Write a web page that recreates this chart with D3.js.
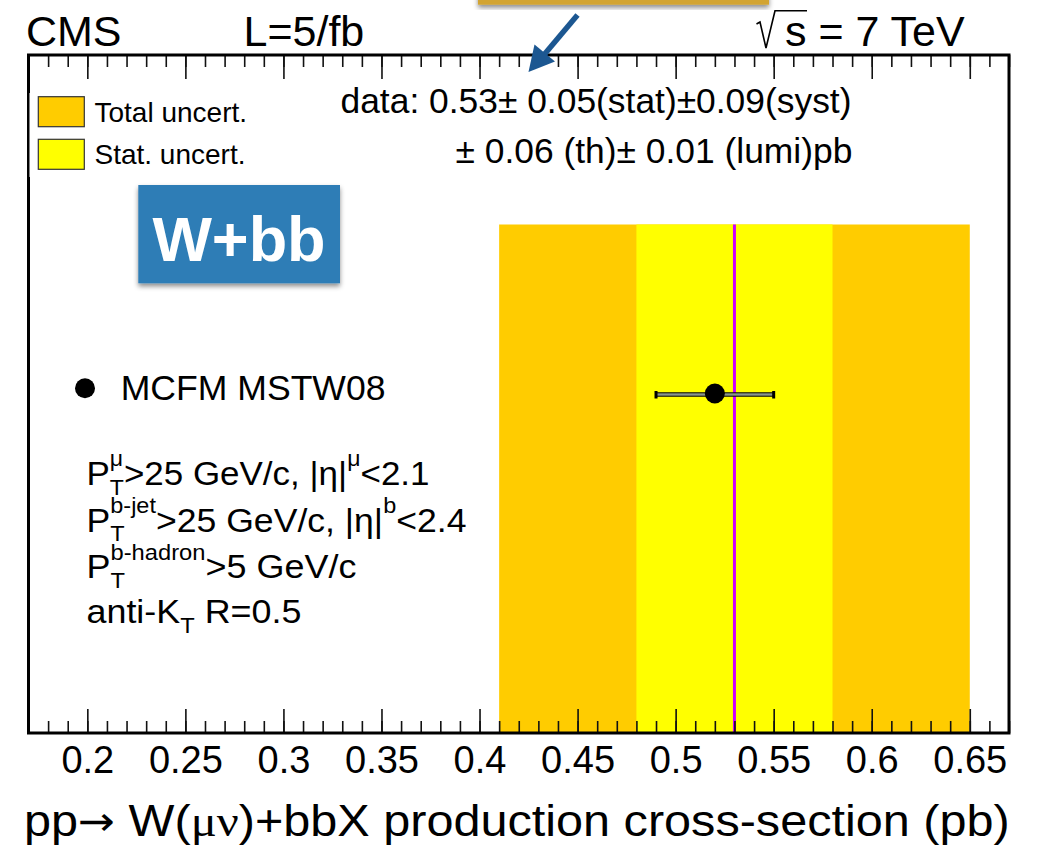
<!DOCTYPE html>
<html>
<head>
<meta charset="utf-8">
<script src="https://cdn.jsdelivr.net/npm/d3@7"></script>
<style>
  body { margin: 0; background: #fff; }
  text { font-family: "Liberation Sans", Arial, Helvetica, sans-serif; fill: #000; white-space: pre; }
</style>
</head>
<body>
<div id="plot"></div>
<script>
// values
const xDomain = [0.17, 0.67];
const majorTicks = [0.2, 0.25, 0.3, 0.35, 0.4, 0.45, 0.5, 0.55, 0.6, 0.65];
const tickLabels = ["0.2", "0.25", "0.3", "0.35", "0.4", "0.45", "0.5", "0.55", "0.6", "0.65"];

const measured = [0.53];
const statErr = [0.05];
const systErr = [0.09];
const thErr = [0.06];
const lumiErr = [0.01];
const totalErr = [0.12];

const bandLabels = ["Total uncert.", "Stat. uncert."];
const bandHalfWidths = [totalErr[0], statErr[0]];

const theoryLabels = ["MCFM MSTW08"];
const theoryValues = [0.52];
const theoryErrs = [0.03];

// layout / style
const w = 1037, h = 846;
const frame = { left: 28.5, right: 1009, top: 55, bottom: 733 };
const bandColors = ["#ffcc00", "#ffff00"];
const bandTop = 0.75;   // fraction of frame height
const theoryY = 0.5;

const svg = d3.select("#plot").append("svg")
    .attr("width", w)
    .attr("height", h);

const defs = svg.append("defs");
defs.append("filter").attr("id", "shadow")
    .attr("x", "-10%").attr("y", "-10%").attr("width", "120%").attr("height", "130%")
  .append("feDropShadow")
    .attr("dx", 0).attr("dy", 3).attr("stdDeviation", 2.5)
    .attr("flood-color", "#000").attr("flood-opacity", 0.45);

const x = d3.scaleLinear().domain(xDomain).range([frame.left, frame.right]);
const y = d3.scaleLinear().domain([0, 1]).range([frame.bottom, frame.top]);

// uncertainty bands
svg.selectAll(".band")
  .data(bandHalfWidths)
  .enter().append("rect")
    .attr("class", "band")
    .attr("x", d => x(measured[0] - d))
    .attr("y", y(bandTop))
    .attr("width", d => x(measured[0] + d) - x(measured[0] - d))
    .attr("height", y(0) - y(bandTop))
    .attr("fill", (d, i) => bandColors[i]);

svg.append("line")
    .attr("x1", x(measured[0])).attr("x2", x(measured[0]))
    .attr("y1", y(bandTop)).attr("y2", y(0))
    .attr("stroke", "#cc00ff")
    .attr("stroke-width", 3);

// theory prediction
const th = svg.selectAll(".theory")
  .data(theoryValues)
  .enter().append("g")
    .attr("class", "theory");

th.append("rect")
    .attr("x", (d, i) => x(d - theoryErrs[i]))
    .attr("y", y(theoryY) - 1.2)
    .attr("width", (d, i) => x(d + theoryErrs[i]) - x(d - theoryErrs[i]))
    .attr("height", 3.4)
    .attr("fill", "#8a968a")
    .attr("stroke", "#000")
    .attr("stroke-width", 1);

[-1, 1].forEach(s => {
  th.append("rect")
      .attr("x", (d, i) => x(d + s * theoryErrs[i]) - 1.5)
      .attr("y", y(theoryY) - 3)
      .attr("width", 3)
      .attr("height", 7.5)
      .attr("fill", "#000");
});

th.append("circle")
    .attr("cx", d => x(d))
    .attr("cy", y(theoryY) - 0.5)
    .attr("r", 10)
    .attr("fill", "#000");

// axes (ROOT style, ticks inside)
const minorTicks = d3.range(17, 68).map(i => i / 100);

function styleTicks(g) {
  g.select(".domain").remove();
  g.selectAll(".tick line").attr("stroke", "#111").attr("stroke-width", 1.6);
}

svg.append("g")
    .attr("transform", `translate(0,${frame.bottom})`)
    .call(d3.axisBottom(x).tickValues(minorTicks).tickSize(-12).tickFormat(""))
    .call(styleTicks);

const xAxis = svg.append("g")
    .attr("transform", `translate(0,${frame.bottom})`)
    .call(d3.axisBottom(x)
      .tickValues(majorTicks)
      .tickSize(-24)
      .tickPadding(13)
      .tickFormat((d, i) => tickLabels[i]))
    .call(styleTicks);

xAxis.selectAll(".tick text")
    .attr("fill", "#000")
    .style("font-family", "'Liberation Sans', Arial, sans-serif")
    .style("font-size", "38px");

svg.append("g")
    .attr("transform", `translate(0,${frame.top})`)
    .call(d3.axisTop(x).tickValues(minorTicks).tickSize(-12).tickFormat(""))
    .call(styleTicks);

svg.append("g")
    .attr("transform", `translate(0,${frame.top})`)
    .call(d3.axisTop(x).tickValues(majorTicks).tickSize(-24).tickFormat(""))
    .call(styleTicks);

svg.append("rect")
    .attr("x", frame.left).attr("y", frame.top)
    .attr("width", frame.right - frame.left)
    .attr("height", frame.bottom - frame.top)
    .attr("fill", "none")
    .attr("stroke", "#000")
    .attr("stroke-width", 3);

// legend
svg.append("rect")
    .attr("x", 29.5).attr("y", 93)
    .attr("width", 230).attr("height", 84)
    .attr("fill", "#fff");

const legend = svg.selectAll(".legend")
  .data(bandLabels)
  .enter().append("g")
    .attr("class", "legend")
    .attr("transform", (d, i) => `translate(38.3,${96.7 + i * 42.6})`);

legend.append("rect")
    .attr("width", 46).attr("height", 30)
    .attr("fill", (d, i) => bandColors[i])
    .attr("stroke", "#333")
    .attr("stroke-width", 1.2);

legend.append("text")
    .attr("x", 56.2).attr("y", 25)
    .style("font-size", "28px")
    .text(d => d);

// header
svg.append("text").attr("x", 26).attr("y", 45.7).style("font-size", "43px").text("CMS");
svg.append("text").attr("x", 243.5).attr("y", 45.7).style("font-size", "43px").text("L=5/fb");
svg.append("path")
    .attr("d", "M756.5,24 L760,22 L766,48 L775,10.7 L807,10.7")
    .attr("fill", "none")
    .attr("stroke", "#000")
    .attr("stroke-width", 1.6);
svg.append("text").attr("x", 785).attr("y", 45.7).style("font-size", "43px").text("s = 7 TeV");

// measurement text
const f2 = v => v.toFixed(2);
svg.append("text").attr("x", 340.5).attr("y", 113).style("font-size", "35.4px")
    .text(`data: ${f2(measured[0])}± ${f2(statErr[0])}(stat)±${f2(systErr[0])}(syst)`);
svg.append("text").attr("x", 455.5).attr("y", 163.3).style("font-size", "35.4px")
    .text(`± ${f2(thErr[0])} (th)± ${f2(lumiErr[0])} (lumi)pb`);

// theory legend
svg.append("circle").attr("cx", 85).attr("cy", 388.3).attr("r", 10).attr("fill", "#000");
svg.append("text").attr("x", 120.7).attr("y", 400).style("font-size", "35.6px").text(theoryLabels[0]);

// rich text with sub/superscripts, stretched to a target width
function richText(x0, y0, parts, size, target) {
  const grp = svg.append("g");
  const small = size * 0.66;
  let cx = 0;
  parts.forEach(p => {
    if (p.t !== undefined) {
      const t = grp.append("text").attr("x", cx).attr("y", p.dy || 0)
          .style("font-size", (p.size || size) + "px").text(p.t);
      if (p.family) t.style("font-family", p.family);
      cx += t.node().getComputedTextLength();
    } else {
      let wMax = 0;
      if (p.sup) {
        const t = grp.append("text").attr("x", cx).attr("y", -size * 0.55)
            .style("font-size", small + "px").text(p.sup);
        wMax = Math.max(wMax, t.node().getComputedTextLength());
      }
      if (p.sub) {
        const t = grp.append("text").attr("x", cx).attr("y", size * 0.28)
            .style("font-size", small + "px").text(p.sub);
        wMax = Math.max(wMax, t.node().getComputedTextLength());
      }
      cx += wMax;
    }
  });
  const sx = target ? target / cx : 1;
  grp.attr("transform", `translate(${x0},${y0}) scale(${sx},1)`);
  return grp;
}

const cutSize = 34;
richText(86.5, 485, [{ t: "P" }, { sup: "μ", sub: "T" }, { t: ">25 GeV/c, |η|" }, { sup: "μ" }, { t: "<2.1" }], cutSize, 343);
richText(86.5, 531.7, [{ t: "P" }, { sup: "b-jet", sub: "T" }, { t: ">25 GeV/c, |η|" }, { sup: "b" }, { t: "<2.4" }], cutSize, 380);
richText(86.5, 578.3, [{ t: "P" }, { sup: "b-hadron", sub: "T" }, { t: ">5 GeV/c" }], cutSize, 270);
richText(86.5, 623.3, [{ t: "anti-K" }, { sub: "T" }, { t: " R=0.5" }], cutSize, 215);

// axis title
richText(24, 836, [
  { t: "pp" },
  { t: "→", family: "'DejaVu Sans', sans-serif", size: 40, dy: -1 },
  { t: " W(" },
  { t: "μν", family: "'Liberation Serif', 'DejaVu Serif', serif" },
  { t: ")+bbX production cross-section (pb)" }
], 44, 986);

// overlay annotations
svg.append("rect")
    .attr("x", 478).attr("y", -20)
    .attr("width", 291).attr("height", 24.7)
    .attr("fill", "#d2a430")
    .attr("filter", "url(#shadow)");

svg.append("line")
    .attr("x1", 577.5).attr("y1", 15)
    .attr("x2", 543).attr("y2", 56)
    .attr("stroke", "#1c5791")
    .attr("stroke-width", 5.5);
svg.append("path")
    .attr("d", "M528.5,72 L534.5,44.5 L555,61.5 Z")
    .attr("fill", "#1c5791");

const badge = svg.append("g");
badge.append("rect")
    .attr("x", 138.3).attr("y", 185)
    .attr("width", 201.7).attr("height", 98.3)
    .attr("fill", "#2f7db6")
    .attr("filter", "url(#shadow)");
badge.append("text")
    .attr("x", 239).attr("y", 261)
    .attr("text-anchor", "middle")
    .style("font-size", "63px")
    .style("font-weight", "bold")
    .style("fill", "#fff")
    .text("W+bb");
</script>
</body>
</html>
